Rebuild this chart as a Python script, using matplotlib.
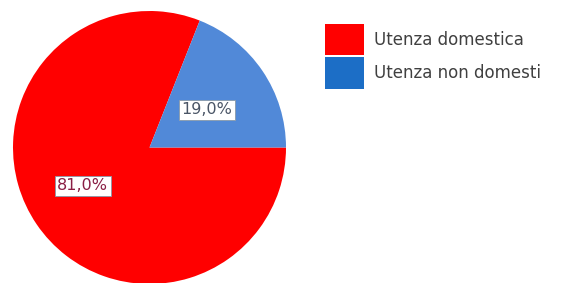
import matplotlib.pyplot as plt
from matplotlib.patches import Patch

labels = ["Utenza domestica", "Utenza non domesti"]
values = [81.0, 19.0]
pie_colors = ["#FF0000", "#5189D8"]
legend_colors = ["#FF0000", "#1C6EC6"]
text_colors = ["#8A1F45", "#4A5566"]
label_pos = [(-0.49, -0.28), (0.42, 0.275)]

fig = plt.figure(figsize=(5.76, 2.83), dpi=100)
W, H = 576, 283
# pie axes placed in pixel terms: left 13, top 11, size 273
ax = fig.add_axes([13 / W, (H - 11 - 273) / H, 273 / W, 273 / H])

wedges, _ = ax.pie(values, colors=pie_colors, startangle=360 * values[1] / 100,
                   radius=1, wedgeprops=dict(linewidth=0))
for w in wedges:
    w.set_clip_on(False)
ax.set_xlim(-1, 1)
ax.set_ylim(-1, 1)
ax.set_aspect("equal")
ax.axis("off")

for v, (x, y), c in zip(values, label_pos, text_colors):
    ax.text(x, y, f"{v:.1f}".replace(".", ",") + "%", ha="center", va="center",
            fontsize=11.5, color=c, family="DejaVu Sans",
            bbox=dict(boxstyle="square,pad=0.15", facecolor="white",
                      edgecolor="#8899AA", linewidth=0.6))

handles = [Patch(facecolor=c, edgecolor="none") for c in legend_colors]
fig.legend(handles, labels, loc="upper left", bbox_to_anchor=(318 / W, 1 - 17 / H),
           frameon=False, fontsize=12, handlelength=2.35, handleheight=2.55,
           labelspacing=0.12, handletextpad=0.6, borderaxespad=0,
           labelcolor="#404040")

fig.savefig("out.png", dpi=100)
